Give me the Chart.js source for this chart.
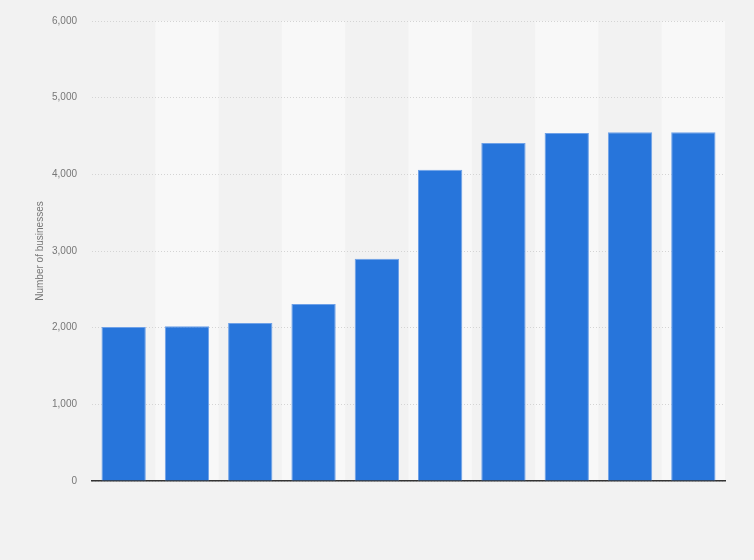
<!DOCTYPE html>
<html>
<head>
<meta charset="utf-8">
<script src="https://cdn.jsdelivr.net/npm/chart.js@4/dist/chart.umd.min.js"></script>
<style>
  html, body { margin: 0; padding: 0; background: #f2f2f2; }
  #wrap { width: 754px; height: 560px; }
</style>
</head>
<body>
<div id="wrap"><canvas id="myChart"></canvas></div>
<script>
// categories are not labelled in the picture
const labels = ["2012", "2013", "2014", "2015", "2016", "2017", "2018", "2019", "2020", "2021"];
const businesses = [2010, 2020, 2060, 2310, 2900, 4060, 4410, 4540, 4550, 4550];
const yTicks = [0, 1000, 2000, 3000, 4000, 5000, 6000];

// light stripes behind every other category
const bands = {
  id: "bands",
  beforeDraw(chart) {
    const ctx = chart.ctx;
    const x = chart.scales.x;
    const area = chart.chartArea;
    const w = x.getPixelForValue(1) - x.getPixelForValue(0);
    ctx.save();
    ctx.fillStyle = "#f8f8f8";
    for (let i = 1; i < labels.length; i += 2) {
      const cx = x.getPixelForValue(i);
      ctx.fillRect(cx - w / 2, area.top, w, area.bottom - area.top);
    }
    ctx.restore();
  },
};

function renderChart() {
  const ctx = document.getElementById("myChart");

  new Chart(ctx, {
    type: "bar",
    data: {
      labels: labels,
      datasets: [
        {
          label: "Number of businesses",
          data: businesses,
          backgroundColor: "#2775db",
          borderColor: "#6ea1e8",
          borderWidth: 1,
          categoryPercentage: 1,
          barPercentage: 0.7,
        },
      ],
    },
    options: {
      responsive: true,
      maintainAspectRatio: false,
      animation: false,
      layout: { padding: { left: 34, right: 29, top: 20, bottom: 79 } },
      plugins: { legend: { display: false }, tooltip: { enabled: false } },
      scales: {
        x: {
          ticks: { display: false },
          grid: { display: false, drawTicks: false },
          border: { display: true, color: "#333333", width: 1.5 },
          afterFit(scale) { scale.height = 0; },
        },
        y: {
          min: 0,
          max: 6000,
          afterBuildTicks(scale) { scale.ticks = yTicks.map(v => ({ value: v })); },
          afterFit(scale) { scale.width = 58; },
          ticks: {
            color: "#777777",
            font: { family: "Arial, 'Liberation Sans', sans-serif", size: 10 },
            padding: 15,
            callback: v => v.toLocaleString("en-US"),
          },
          grid: { color: "#d4d4d4", drawTicks: false, lineWidth: 1 },
          border: { display: false, dash: [1, 2] },
          title: {
            display: true,
            text: "Number of businesses",
            color: "#777777",
            font: { family: "Arial, 'Liberation Sans', sans-serif", size: 10 },
            padding: { top: 0, bottom: 0 },
          },
        },
      },
    },
    plugins: [bands],
  });
}

renderChart();
</script>
</body>
</html>
